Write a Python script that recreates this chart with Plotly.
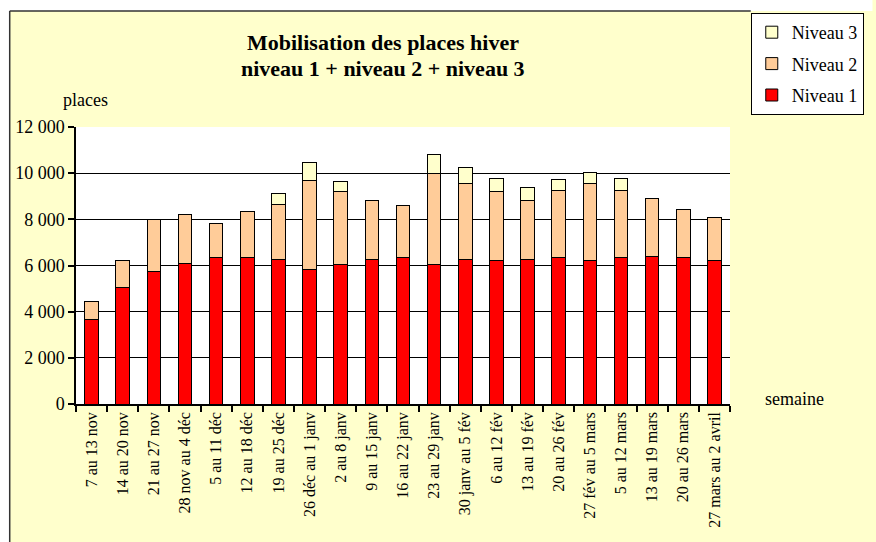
import plotly.graph_objects as go

semaines = ["7 au 13 nov", "14 au 20 nov", "21 au 27 nov", "28 nov au 4 déc", "5 au 11 déc",
            "12 au 18 déc", "19 au 25 déc", "26 déc au 1 janv", "2 au 8 janv", "9 au 15 janv",
            "16 au 22 janv", "23 au 29 janv", "30 janv au 5 fév", "6 au 12 fév", "13 au 19 fév",
            "20 au 26 fév", "27 fév au 5 mars", "5 au 12 mars", "13 au 19 mars", "20 au 26 mars",
            "27 mars au 2 avril"]
niveau1 = [3650, 5050, 5750, 6080, 6330, 6330, 6280, 5820, 6030, 6280,
           6340, 6030, 6280, 6210, 6280, 6330, 6210, 6340, 6410, 6330, 6210]
niveau2 = [800, 1150, 2250, 2120, 1490, 2020, 2380, 3880, 3170, 2520,
           2260, 3970, 3290, 2990, 2530, 2940, 3360, 2930, 2510, 2090, 1880]
niveau3 = [0, 0, 0, 0, 0, 0, 460, 780, 450, 0,
           0, 830, 670, 580, 580, 450, 480, 500, 0, 0, 0]
yticks = [0, 2000, 4000, 6000, 8000, 10000, 12000]
yticklabels = ["0", "2 000", "4 000", "6 000", "8 000", "10 000", "12 000"]
title_lines = ["Mobilisation des places hiver", "niveau 1 + niveau 2 + niveau 3"]

W, H = 876, 542
L, R, T, B = 76, 139, 127, 138
pw, ph = W - L - R, H - T - B

def px_x(x):
    return (x - L) / pw

def px_y(y):
    return (H - B - y) / ph

FONT = "Liberation Serif, Times New Roman, serif"

fig = go.Figure()
series = [("Niveau 1", niveau1, "#FF0000", 3), ("Niveau 2", niveau2, "#FFCC99", 2),
          ("Niveau 3", niveau3, "#FFFFCC", 1)]
for name, vals, col, rank in series:
    fig.add_trace(go.Bar(x=semaines, y=vals, name=name, legendgroup=name, legendrank=rank,
                         marker=dict(color=col, line=dict(color="black", width=1))))

shapes = [
    dict(type="rect", xref="paper", yref="paper", x0=px_x(-5), x1=px_x(W + 5), y0=px_y(11), y1=px_y(-5),
         fillcolor="white", line=dict(width=0), layer="above"),
    dict(type="rect", xref="paper", yref="paper", x0=px_x(-5), x1=px_x(9), y0=px_y(H + 5), y1=px_y(-5),
         fillcolor="white", line=dict(width=0), layer="above"),
    dict(type="line", xref="paper", yref="paper", x0=px_x(9), x1=px_x(758), y0=px_y(11), y1=px_y(11),
         line=dict(color="#333333", width=1.5), layer="above"),
    dict(type="line", xref="paper", yref="paper", x0=px_x(9), x1=px_x(9), y0=px_y(11), y1=px_y(H + 5),
         line=dict(color="#333333", width=1.5), layer="above"),
]

annotations = [
    dict(text="<b>%s</b>" % title_lines[0], xref="paper", yref="paper", x=px_x(386), y=px_y(43),
         xanchor="center", yanchor="middle", showarrow=False, font=dict(size=22, family=FONT)),
    dict(text="<b>%s</b>" % title_lines[1], xref="paper", yref="paper", x=px_x(386), y=px_y(68),
         xanchor="center", yanchor="middle", showarrow=False, font=dict(size=22, family=FONT)),
    dict(text="places", xref="paper", yref="paper", x=px_x(86), y=px_y(100),
         xanchor="center", yanchor="middle", showarrow=False, font=dict(size=18, family=FONT)),
    dict(text="semaine", xref="paper", yref="paper", x=px_x(802), y=px_y(399),
         xanchor="center", yanchor="middle", showarrow=False, font=dict(size=18, family=FONT)),
]

fig.update_layout(
    width=W, height=H,
    margin=dict(l=L, r=R, t=T, b=B, pad=0),
    barmode="stack", bargap=0.56,
    paper_bgcolor="#FFFFCC", plot_bgcolor="white",
    font=dict(family=FONT, color="black", size=18),
    showlegend=True,
    legend=dict(traceorder="grouped", tracegroupgap=5,
                x=px_x(758), xanchor="left", y=px_y(13), yanchor="top",
                bgcolor="white", bordercolor="black", borderwidth=1,
                font=dict(size=18, family=FONT)),
    shapes=shapes,
    annotations=annotations,
)
fig.update_yaxes(range=[0, 12000], tickvals=yticks, ticktext=yticklabels,
                 showgrid=True, gridcolor="black", gridwidth=1,
                 showline=True, linecolor="black", linewidth=1.5,
                 ticks="outside", ticklen=6, tickcolor="black", tickwidth=1.5,
                 tickfont=dict(size=18, family=FONT), zeroline=False, automargin=False)
fig.update_xaxes(tickangle=-90, tickson="boundaries", ticks="outside", ticklen=6,
                 tickcolor="black", tickwidth=1.5, showline=True, linecolor="black", linewidth=1.5,
                 showgrid=False, tickfont=dict(size=16, family=FONT), automargin=False)

fig.write_html("out.html", config={"displayModeBar": False},
               post_script="document.body.style.margin='0';document.body.style.overflow='hidden';")
